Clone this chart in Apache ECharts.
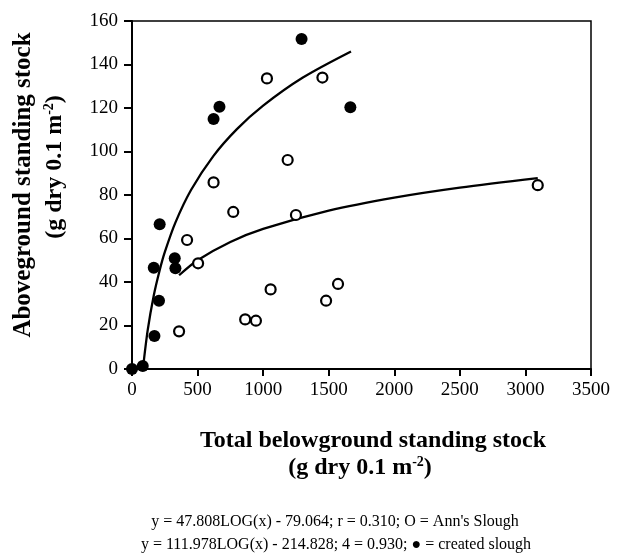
<!DOCTYPE html>
<html>
<head>
<meta charset="utf-8">
<script src="https://cdn.jsdelivr.net/npm/echarts@6/dist/echarts.min.js"></script>
<style>
html, body { margin: 0; padding: 0; background: #fff; }
#chart { width: 623px; height: 555px; }
</style>
</head>
<body>
<div id="chart"></div>
<script>
// created slough (filled dots)
var createdX = [0, 82, 171, 166, 206, 211, 326, 331, 622, 667, 1293, 1665];
var createdY = [0, 1.4, 15.2, 46.6, 31.4, 66.5, 50.9, 46.3, 114.9, 120.6, 151.7, 120.3];
// Ann's Slough (open dots)
var annX = [359, 420, 504, 622, 772, 863, 945, 1029, 1057, 1187, 1250, 1452, 1480, 1571, 3094];
var annY = [17.3, 59.3, 48.6, 85.8, 72.2, 22.8, 22.2, 133.6, 36.6, 96.1, 70.8, 134, 31.4, 39.1, 84.5];
// fitted curves
var createdFitX = [83, 120, 166, 211, 250, 330, 450, 620, 800, 1000, 1300, 1670];
var createdFitY = [0, 18, 33.8, 45.4, 53.7, 67.2, 82.3, 97.9, 110.3, 121.1, 133.9, 146];
var annFitX = [359, 500, 750, 1000, 1500, 2000, 2500, 3094];
var annFitY = [43.1, 50, 58.4, 64.4, 72.8, 78.8, 83.4, 87.8];

var notes = [
  "y = 47.808LOG(x) - 79.064; r = 0.310; O = Ann's Slough",
  "y = 111.978LOG(x) - 214.828; 4 = 0.930; \u25CF = created slough"
];

function pairs(xs, ys) {
  return xs.map(function (x, i) { return [x, ys[i]]; });
}

var serif = '"Liberation Serif", "DejaVu Serif", serif';
var unitRich = {
  b: { font: 'bold 24px ' + serif, fill: '#000', lineHeight: 26 },
  s: { font: 'bold 14px ' + serif, fill: '#000', lineHeight: 26, verticalAlign: 'top' }
};

var chart = echarts.init(document.getElementById('chart'));
chart.setOption({
  animation: false,
  backgroundColor: '#fff',
  grid: {
    left: 132, right: 32, top: 21, bottom: 186,
    show: true, borderColor: '#000', borderWidth: 1.5,
    outerBoundsMode: 'none'
  },
  xAxis: {
    type: 'value', min: 0, max: 3500, interval: 500,
    splitLine: { show: false },
    axisLine: { lineStyle: { color: '#000', width: 2 } },
    axisTick: { length: 7, lineStyle: { color: '#000', width: 2 } },
    axisLabel: { color: '#000', fontFamily: serif, fontSize: 19, margin: 12,
      formatter: function (v) { return String(v); } }
  },
  yAxis: {
    type: 'value', min: 0, max: 160, interval: 20,
    splitLine: { show: false },
    axisLine: { lineStyle: { color: '#000', width: 2 } },
    axisTick: { length: 8, lineStyle: { color: '#000', width: 2 } },
    axisLabel: { color: '#000', fontFamily: serif, fontSize: 19, margin: 14 }
  },
  series: [
    {
      type: 'line', data: pairs(createdFitX, createdFitY), smooth: 0.3,
      showSymbol: false, lineStyle: { color: '#000', width: 2.3 }, z: 2
    },
    {
      type: 'line', data: pairs(annFitX, annFitY), smooth: 0.3,
      showSymbol: false, lineStyle: { color: '#000', width: 2.3 }, z: 2
    },
    {
      type: 'scatter', data: pairs(createdX, createdY), symbolSize: 12, clip: false,
      itemStyle: { color: '#000', opacity: 1 }, z: 3
    },
    {
      type: 'scatter', data: pairs(annX, annY), symbolSize: 10, clip: false,
      itemStyle: { color: '#fff', borderColor: '#000', borderWidth: 2.2, opacity: 1 }, z: 3
    }
  ],
  graphic: [
    {
      type: 'text', x: 24, y: 185, rotation: Math.PI / 2,
      style: { text: 'Aboveground standing stock', font: 'bold 25px ' + serif, fill: '#000',
        textAlign: 'center', textVerticalAlign: 'middle' }
    },
    {
      type: 'text', x: 55, y: 167, rotation: Math.PI / 2,
      style: { text: '{b|(g dry 0.1 m}{s|-2}{b|)}', textAlign: 'center', textVerticalAlign: 'middle',
        rich: unitRich }
    },
    {
      type: 'text', x: 373, y: 441,
      style: { text: 'Total belowground standing stock', font: 'bold 24px ' + serif, fill: '#000',
        textAlign: 'center', textVerticalAlign: 'middle' }
    },
    {
      type: 'text', x: 360, y: 468,
      style: { text: '{b|(g dry 0.1 m}{s|-2}{b|)}', textAlign: 'center', textVerticalAlign: 'middle',
        rich: unitRich }
    },
    {
      type: 'text', x: 335, y: 522,
      style: { text: notes[0], font: '16px ' + serif, fill: '#000',
        textAlign: 'center', textVerticalAlign: 'middle' }
    },
    {
      type: 'text', x: 336, y: 545,
      style: { text: notes[1], font: '16px ' + serif, fill: '#000',
        textAlign: 'center', textVerticalAlign: 'middle' }
    }
  ]
});
</script>
</body>
</html>
